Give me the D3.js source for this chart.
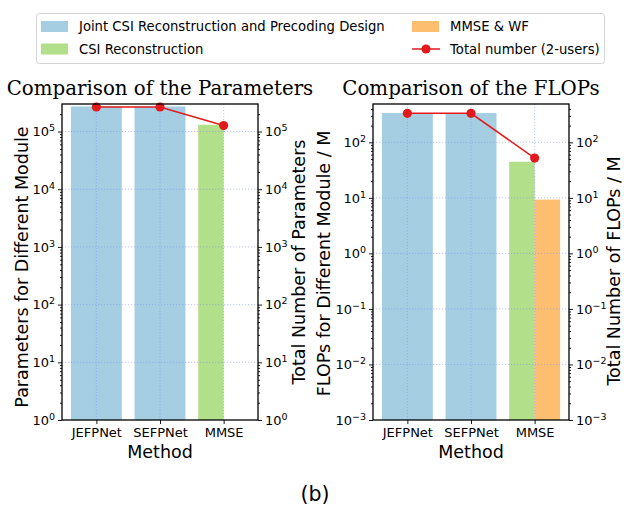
<!DOCTYPE html>
<html>
<head>
<meta charset="utf-8">
<script src="https://cdn.jsdelivr.net/npm/d3@7"></script>
<style>
  body { margin: 0; background: #fff; }
  svg { display: block; font-family: "DejaVu Sans", sans-serif; }
</style>
</head>
<body>
<svg id="chart" width="624" height="506"></svg>
<script>
// categories
const methods = ['JEFPNet', 'SEFPNet', 'MMSE'];

// parameters (left panel)
const paramJoint = [2.72e5, 2.72e5, null];
const paramCsi = [null, null, 1.31e5];
const paramWf = [null, null, null];
const paramTotal = [2.66e5, 2.66e5, 1.27e5];

// FLOPs / M (right panel)
const flopJoint = [337, 337, null];
const flopCsi = [null, null, 44.7];
const flopWf = [null, null, 9.3];
const flopTotal = [333, 333, 52];

// tick values (powers of ten)
const paramTicks = [1e0, 1e1, 1e2, 1e3, 1e4, 1e5];
const flopTicks = [1e-3, 1e-2, 1e-1, 1e0, 1e1, 1e2];

const legendNames = ['Joint CSI Reconstruction and Precoding Design', 'CSI Reconstruction', 'MMSE & WF', 'Total number (2-users)'];
const colors = {joint: '#a6cee3', csi: '#b2df8a', wf: '#fdbf6f', total: '#e31a1c'};

const svg = d3.select('#chart');

// minor ticks 2..9 x 10^k inside the domain
function minorTicks(domain) {
  const out = [];
  const lo = Math.floor(Math.log10(domain[0])), hi = Math.ceil(Math.log10(domain[1]));
  for (let k = lo; k <= hi; k++) {
    for (let m = 2; m <= 9; m++) {
      const v = m * Math.pow(10, k);
      if (v > domain[0] && v < domain[1]) out.push(v);
    }
  }
  return out;
}

// write 10^k labels with a superscript
function powLabels(g) {
  g.selectAll('.tick text').each(function(d) {
    const t = d3.select(this);
    const e = Math.round(Math.log10(d));
    t.text('');
    t.append('tspan').text('10');
    t.append('tspan')
      .attr('dy', -5)
      .attr('font-size', 9.5)
      .text(e < 0 ? '\u2212' + (-e) : String(e));
  });
}

function drawPanel(p) {
  const x = d3.scaleLinear().domain([-0.54, 2.54]).range([p.left, p.right]);
  const y = d3.scaleLog().domain(p.domain).range([p.bottom, p.top]);
  const g = svg.append('g');

  // bars
  const series = [
    {vals: p.joint, color: colors.joint, x0: -0.4, x1: 0.4},
    {vals: p.csi, color: colors.csi, x0: -0.4, x1: 0},
    {vals: p.wf, color: colors.wf, x0: 0, x1: 0.4}
  ];
  series.forEach(s => {
    const rows = s.vals.map((v, i) => ({i, v})).filter(d => d.v != null);
    g.selectAll(null)
      .data(rows)
      .enter().append('rect')
        .attr('x', d => x(d.i + s.x0))
        .attr('width', d => x(d.i + s.x1) - x(d.i + s.x0))
        .attr('y', d => y(d.v))
        .attr('height', d => y(p.domain[0]) - y(d.v))
        .attr('fill', s.color);
  });

  // grid on top of bars
  const grid = g.append('g')
    .attr('stroke', '#7d8cf0')
    .attr('stroke-opacity', 0.55)
    .attr('stroke-width', 0.9)
    .attr('stroke-dasharray', '1.2,1.8');
  grid.selectAll(null).data(p.ticks.filter(t => t > p.domain[0])).enter().append('line')
    .attr('x1', p.left).attr('x2', p.right)
    .attr('y1', d => y(d)).attr('y2', d => y(d));
  grid.selectAll(null).data(methods.map((m, i) => i)).enter().append('line')
    .attr('y1', p.top).attr('y2', p.bottom)
    .attr('x1', d => x(d)).attr('x2', d => x(d));

  // total line
  const line = d3.line().x((d, i) => x(i)).y(d => y(d));
  g.append('path')
    .attr('d', line(p.total))
    .attr('fill', 'none')
    .attr('stroke', colors.total)
    .attr('stroke-width', 1.5);
  g.selectAll(null).data(p.total).enter().append('circle')
    .attr('cx', (d, i) => x(i))
    .attr('cy', d => y(d))
    .attr('r', 4.6)
    .attr('fill', colors.total);

  // axes
  const yl = g.append('g').attr('transform', 'translate(' + p.left + ',0)')
    .call(d3.axisLeft(y).tickValues(p.ticks).tickSize(4).tickPadding(3));
  powLabels(yl);
  g.append('g').attr('transform', 'translate(' + p.left + ',0)')
    .call(d3.axisLeft(y).tickValues(minorTicks(p.domain)).tickSize(2).tickFormat(''));
  const yr = g.append('g').attr('transform', 'translate(' + p.right + ',0)')
    .call(d3.axisRight(y).tickValues(p.ticks).tickSize(4).tickPadding(3));
  powLabels(yr);
  g.append('g').attr('transform', 'translate(' + p.right + ',0)')
    .call(d3.axisRight(y).tickValues(minorTicks(p.domain)).tickSize(2).tickFormat(''));
  g.append('g').attr('transform', 'translate(0,' + p.bottom + ')')
    .call(d3.axisBottom(x).tickValues([0, 1, 2]).tickFormat(i => methods[i]).tickSize(4).tickPadding(4));

  g.selectAll('.domain').remove();
  g.selectAll('.tick text').attr('font-size', 13).attr('font-family', '"DejaVu Sans", sans-serif').attr('fill', '#000');
  g.selectAll('.tick line').attr('stroke', '#000').attr('stroke-width', 0.9);

  // frame
  g.append('rect')
    .attr('x', p.left).attr('y', p.top)
    .attr('width', p.right - p.left).attr('height', p.bottom - p.top)
    .attr('fill', 'none').attr('stroke', '#000').attr('stroke-width', 1.3);

  // title and labels
  g.append('text')
    .attr('x', (p.left + p.right) / 2).attr('y', 95)
    .attr('text-anchor', 'middle')
    .attr('font-family', '"DejaVu Serif", serif')
    .attr('font-size', 19.8)
    .text(p.title);
  g.append('text')
    .attr('x', (p.left + p.right) / 2).attr('y', 458)
    .attr('text-anchor', 'middle')
    .attr('font-size', 17.5)
    .text('Method');
  g.append('text')
    .attr('transform', 'translate(' + p.ylabX + ',' + p.ylabY + ') rotate(-90)')
    .attr('text-anchor', 'middle')
    .attr('font-size', 17.5)
    .text(p.ylabel);
  g.append('text')
    .attr('transform', 'translate(' + p.y2labX + ',' + p.y2labY + ') rotate(-90)')
    .attr('text-anchor', 'middle')
    .attr('font-size', 17.5)
    .text(p.y2label);
}

drawPanel({
  left: 62, right: 258, top: 104, bottom: 420,
  domain: [1, 3.0e5], ticks: paramTicks,
  joint: paramJoint, csi: paramCsi, wf: paramWf, total: paramTotal,
  title: 'Comparison of the Parameters',
  ylabel: 'Parameters for Different Module', ylabX: 28, ylabY: 267,
  y2label: 'Total Number of Parameters', y2labX: 305, y2labY: 262
});

drawPanel({
  left: 373, right: 569, top: 104, bottom: 420,
  domain: [1e-3, 490], ticks: flopTicks,
  joint: flopJoint, csi: flopCsi, wf: flopWf, total: flopTotal,
  title: 'Comparison of the FLOPs',
  ylabel: 'FLOPs for Different Module / M', ylabX: 329.5, ylabY: 263.5,
  y2label: 'Total Number of FLOPs / M', y2labX: 619.5, y2labY: 271
});

// legend
const legend = svg.append('g');
legend.append('rect')
  .attr('x', 36.5).attr('y', 13.5).attr('width', 568).attr('height', 50)
  .attr('rx', 3)
  .attr('fill', '#fff').attr('fill-opacity', 0.8)
  .attr('stroke', '#d4d4d4');
const items = [
  {name: legendNames[0], color: colors.joint, x: 41, y: 26.5},
  {name: legendNames[1], color: colors.csi, x: 41, y: 49},
  {name: legendNames[2], color: colors.wf, x: 412, y: 26.5},
  {name: legendNames[3], color: colors.total, x: 412, y: 49, line: true}
];
items.forEach(it => {
  if (it.line) {
    legend.append('line')
      .attr('x1', it.x).attr('x2', it.x + 28)
      .attr('y1', it.y).attr('y2', it.y)
      .attr('stroke', it.color).attr('stroke-width', 1.5);
    legend.append('circle')
      .attr('cx', it.x + 14).attr('cy', it.y).attr('r', 4.6).attr('fill', it.color);
  } else {
    legend.append('rect')
      .attr('x', it.x).attr('y', it.y - 5.5).attr('width', 27).attr('height', 11)
      .attr('fill', it.color);
  }
  legend.append('text')
    .attr('x', it.x + 38).attr('y', it.y)
    .attr('dy', '0.35em')
    .attr('font-size', 13.2)
    .text(it.name);
});

// caption
svg.append('text')
  .attr('x', 315).attr('y', 501)
  .attr('text-anchor', 'middle')
  .attr('font-size', 20.5)
  .text('(b)');
</script>
</body>
</html>
